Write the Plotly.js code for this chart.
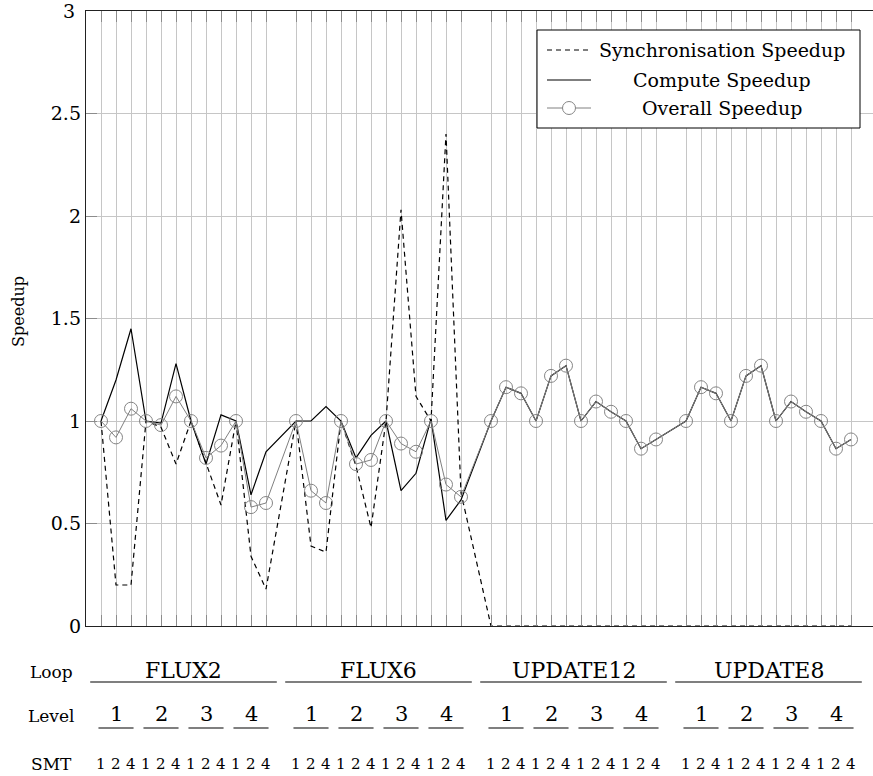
<!DOCTYPE html>
<html>
<head>
<meta charset="utf-8">
<script src="https://cdn.plot.ly/plotly-3.0.1.min.js"></script>
<style>
  html, body { margin: 0; padding: 0; background: #fff; }
  #chart { width: 873px; height: 776px; }
</style>
</head>
<body>
<div id="chart"></div>
<script>
// Category levels along the x axis
const loops = ['FLUX2', 'FLUX6', 'UPDATE12', 'UPDATE8'];
const levels = ['1', '2', '3', '4'];
const smtCounts = ['1', '2', '4'];

// Speedups, ordered loop -> level -> SMT
const syncSpeedup = [
  1.00, 0.20, 0.20, 1.00, 0.97, 0.79, 1.00, 0.80, 0.59, 1.00, 0.34, 0.18,
  1.00, 0.39, 0.36, 1.00, 0.78, 0.48, 1.00, 2.03, 1.12, 1.00, 2.40, 0.65,
  0, 0, 0, 0, 0, 0, 0, 0, 0, 0, 0, 0,
  0, 0, 0, 0, 0, 0, 0, 0, 0, 0, 0, 0
];
const computeSpeedup = [
  1.00, 1.20, 1.45, 1.00, 0.99, 1.28, 1.00, 0.79, 1.03, 1.00, 0.64, 0.85,
  1.00, 1.00, 1.07, 1.00, 0.82, 0.93, 1.00, 0.66, 0.745, 1.01, 0.515, 0.615,
  1.00, 1.165, 1.135, 1.00, 1.22, 1.27, 1.00, 1.095, 1.045, 1.00, 0.865, 0.91,
  1.00, 1.165, 1.135, 1.00, 1.22, 1.27, 1.00, 1.095, 1.045, 1.00, 0.865, 0.91
];
const overallSpeedup = [
  1.00, 0.92, 1.06, 1.00, 0.98, 1.12, 1.00, 0.82, 0.88, 1.00, 0.58, 0.60,
  1.00, 0.66, 0.60, 1.00, 0.79, 0.81, 1.00, 0.89, 0.85, 1.00, 0.69, 0.63,
  1.00, 1.165, 1.135, 1.00, 1.22, 1.27, 1.00, 1.095, 1.045, 1.00, 0.865, 0.91,
  1.00, 1.165, 1.135, 1.00, 1.22, 1.27, 1.00, 1.095, 1.045, 1.00, 0.865, 0.91
];

const yTickVals = [0, 0.5, 1, 1.5, 2, 2.5, 3];
const yTickText = ['0', '0.5', '1', '1.5', '2', '2.5', '3'];

const seriesNames = ['Synchronisation Speedup', 'Compute Speedup', 'Overall Speedup'];
const rowLabels = ['Loop', 'Level', 'SMT'];

// ---- layout geometry (pixels) ----
const W = 873, H = 776;
const M = { l: 86, r: 0, t: 11, b: 150 };
const plotW = W - M.l - M.r, plotH = H - M.t - M.b;
const unitPx = 15;                       // one x slot
const xMin = -1, xMax = xMin + plotW / unitPx;
const groupStride = levels.length * smtCounts.length + 1; // one empty slot between loops

const SERIF = 'DejaVu Serif';
const px = x => (x - M.l) / plotW;        // pixel -> paper x
const py = y => (H - M.b - y) / plotH;    // pixel -> paper y

// x slot for each (loop, level, smt)
const xPos = [];
const smtText = [];
loops.forEach((lp, li) => levels.forEach((lv, vi) => smtCounts.forEach((s, si) => {
  xPos.push(li * groupStride + vi * smtCounts.length + si);
  smtText.push(s);
})));

const traces = [
  { x: xPos, y: syncSpeedup, name: seriesNames[0], type: 'scatter', mode: 'lines',
    line: { color: '#000', width: 1.2, dash: '5px,4px' }, showlegend: false },
  { x: xPos, y: computeSpeedup, name: seriesNames[1], type: 'scatter', mode: 'lines',
    line: { color: '#000', width: 1.2 }, showlegend: false },
  { x: xPos, y: overallSpeedup, name: seriesNames[2], type: 'scatter', mode: 'lines+markers',
    line: { color: '#808080', width: 1 },
    marker: { symbol: 'circle-open', size: 13, color: '#858585', line: { width: 1, color: '#858585' } },
    showlegend: false }
];

const annotations = [];
const shapes = [];

// y axis title
annotations.push({ xref: 'paper', yref: 'paper', x: px(19), y: py(312), text: 'Speedup',
  textangle: -90, showarrow: false, xanchor: 'center', yanchor: 'middle',
  font: { family: SERIF, size: 16, color: '#000' } });

// top tick label, placed by hand so it is not dropped at the range edge
annotations.push({ xref: 'paper', yref: 'y', x: px(77), y: 3, text: yTickText[yTickText.length - 1],
  showarrow: false, xanchor: 'right', yanchor: 'middle',
  font: { family: SERIF, size: 19, color: '#000' } });

// row headings under the axis
const rowY = [672, 716, 764];
rowLabels.forEach((t, i) => annotations.push({ xref: 'paper', yref: 'paper', x: px(51), y: py(rowY[i]),
  text: t, showarrow: false, xanchor: 'center', yanchor: 'middle',
  font: { family: SERIF, size: 17, color: '#000' } }));

// loop names with underline
loops.forEach((lp, li) => {
  const c = li * groupStride + (levels.length * smtCounts.length - 1) / 2;
  annotations.push({ xref: 'x', yref: 'paper', x: c, y: py(670), text: lp, showarrow: false,
    xanchor: 'center', yanchor: 'middle', font: { family: SERIF, size: 22, color: '#000' } });
  shapes.push({ type: 'line', xref: 'x', yref: 'paper', x0: c - 6.22, x1: c + 6.22,
    y0: py(682), y1: py(682), line: { color: '#000', width: 1.2 } });
  // level numbers with underline
  levels.forEach((lv, vi) => {
    const lc = li * groupStride + vi * smtCounts.length + 1;
    annotations.push({ xref: 'x', yref: 'paper', x: lc, y: py(714), text: lv, showarrow: false,
      xanchor: 'center', yanchor: 'middle', font: { family: SERIF, size: 21, color: '#000' } });
    shapes.push({ type: 'line', xref: 'x', yref: 'paper', x0: lc - 1.17, x1: lc + 1.17,
      y0: py(728), y1: py(728), line: { color: '#000', width: 1.2 } });
  });
});

// SMT counts under every slot
xPos.forEach((x, i) => annotations.push({ xref: 'x', yref: 'paper', x: x, y: py(764), text: smtText[i],
  showarrow: false, xanchor: 'center', yanchor: 'middle', font: { family: SERIF, size: 15, color: '#000' } }));

// legend box, drawn by hand so the labels can be centred
const lg = { x0: 537, x1: 860, y0: 30, y1: 128 };
shapes.push({ type: 'rect', xref: 'paper', yref: 'paper', layer: 'above',
  x0: px(lg.x0), x1: px(lg.x1), y0: py(lg.y0), y1: py(lg.y1),
  fillcolor: '#fff', line: { color: '#000', width: 1 } });
const legRows = [50, 80, 108];
shapes.push({ type: 'line', xref: 'paper', yref: 'paper', layer: 'above', x0: px(547), x1: px(591),
  y0: py(legRows[0]), y1: py(legRows[0]), line: { color: '#000', width: 1.2, dash: '5px,4px' } });
shapes.push({ type: 'line', xref: 'paper', yref: 'paper', layer: 'above', x0: px(547), x1: px(591),
  y0: py(legRows[1]), y1: py(legRows[1]), line: { color: '#000', width: 1.2 } });
shapes.push({ type: 'line', xref: 'paper', yref: 'paper', layer: 'above', x0: px(547), x1: px(591),
  y0: py(legRows[2]), y1: py(legRows[2]), line: { color: '#808080', width: 1 } });
shapes.push({ type: 'circle', xref: 'paper', yref: 'paper', layer: 'above', x0: px(562.5), x1: px(575.5),
  y0: py(legRows[2] - 6.5), y1: py(legRows[2] + 6.5), fillcolor: '#fff', line: { color: '#858585', width: 1 } });
seriesNames.forEach((n, i) => annotations.push({ xref: 'paper', yref: 'paper', x: px(721.5), y: py(legRows[i]),
  text: n, showarrow: false, xanchor: 'center', yanchor: 'middle', font: { family: SERIF, size: 19, color: '#000' } }));

const layout = {
  width: W, height: H, margin: M,
  paper_bgcolor: '#fff', plot_bgcolor: '#fff',
  showlegend: false,
  font: { family: SERIF, color: '#000' },
  xaxis: {
    range: [xMin, xMax], tickmode: 'array', tickvals: xPos, showticklabels: false,
    ticks: 'inside', ticklen: 11, tickwidth: 1, tickcolor: '#8c8c8c',
    showgrid: true, gridcolor: '#c6c6c6', gridwidth: 1,
    showline: true, linecolor: '#222', linewidth: 1.2, mirror: 'ticks', zeroline: false
  },
  yaxis: {
    range: [0, 3], tickmode: 'array', tickvals: yTickVals, ticktext: yTickText,
    ticks: 'inside', ticklen: 11, tickwidth: 1, tickcolor: '#8c8c8c',
    tickfont: { family: SERIF, size: 19, color: '#000' },
    showgrid: true, gridcolor: '#c6c6c6', gridwidth: 1,
    showline: true, linecolor: '#222', linewidth: 1.2, zeroline: false
  },
  annotations: annotations,
  shapes: shapes
};

Plotly.newPlot('chart', traces, layout, { staticPlot: true, displayModeBar: false });
</script>
</body>
</html>
